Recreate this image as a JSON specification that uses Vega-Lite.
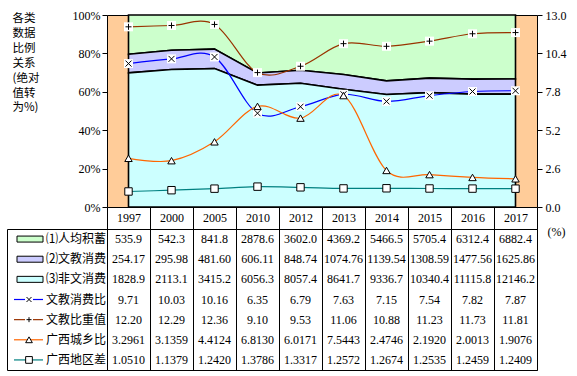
{
"$schema":"https://vega.github.io/schema/vega-lite/v6.json",
"padding":{"left":6,"top":8,"right":0,"bottom":0},
"background":"white",
"config":{"view":{"stroke":null},"axis":{"labelFont":"Liberation Serif","labelFontSize":12,"labelColor":"black","tickColor":"black","tickWidth":1,"domain":false,"grid":false,"titleFont":"Noto Sans CJK SC","titleFontWeight":"normal","titleColor":"black"},"text":{"color":"black"}},
"datasets":{"d":[
{"year":"1997","series":"⑴人均积蓄","value":535.9},{"year":"2000","series":"⑴人均积蓄","value":542.3},{"year":"2005","series":"⑴人均积蓄","value":841.8},{"year":"2010","series":"⑴人均积蓄","value":2878.6},{"year":"2012","series":"⑴人均积蓄","value":3602.0},{"year":"2013","series":"⑴人均积蓄","value":4369.2},{"year":"2014","series":"⑴人均积蓄","value":5466.5},{"year":"2015","series":"⑴人均积蓄","value":5705.4},{"year":"2016","series":"⑴人均积蓄","value":6312.4},{"year":"2017","series":"⑴人均积蓄","value":6882.4},
{"year":"1997","series":"⑵文教消费","value":254.17},{"year":"2000","series":"⑵文教消费","value":295.98},{"year":"2005","series":"⑵文教消费","value":481.60},{"year":"2010","series":"⑵文教消费","value":606.11},{"year":"2012","series":"⑵文教消费","value":848.74},{"year":"2013","series":"⑵文教消费","value":1074.76},{"year":"2014","series":"⑵文教消费","value":1139.54},{"year":"2015","series":"⑵文教消费","value":1308.59},{"year":"2016","series":"⑵文教消费","value":1477.56},{"year":"2017","series":"⑵文教消费","value":1625.86},
{"year":"1997","series":"⑶非文消费","value":1828.9},{"year":"2000","series":"⑶非文消费","value":2113.1},{"year":"2005","series":"⑶非文消费","value":3415.2},{"year":"2010","series":"⑶非文消费","value":6056.3},{"year":"2012","series":"⑶非文消费","value":8057.4},{"year":"2013","series":"⑶非文消费","value":8641.7},{"year":"2014","series":"⑶非文消费","value":9336.7},{"year":"2015","series":"⑶非文消费","value":10340.4},{"year":"2016","series":"⑶非文消费","value":11115.8},{"year":"2017","series":"⑶非文消费","value":12146.2},
{"year":"1997","series":"文教消费比","value":9.71},{"year":"2000","series":"文教消费比","value":10.03},{"year":"2005","series":"文教消费比","value":10.16},{"year":"2010","series":"文教消费比","value":6.35},{"year":"2012","series":"文教消费比","value":6.79},{"year":"2013","series":"文教消费比","value":7.63},{"year":"2014","series":"文教消费比","value":7.15},{"year":"2015","series":"文教消费比","value":7.54},{"year":"2016","series":"文教消费比","value":7.82},{"year":"2017","series":"文教消费比","value":7.87},
{"year":"1997","series":"文教比重值","value":12.20},{"year":"2000","series":"文教比重值","value":12.29},{"year":"2005","series":"文教比重值","value":12.36},{"year":"2010","series":"文教比重值","value":9.10},{"year":"2012","series":"文教比重值","value":9.53},{"year":"2013","series":"文教比重值","value":11.06},{"year":"2014","series":"文教比重值","value":10.88},{"year":"2015","series":"文教比重值","value":11.23},{"year":"2016","series":"文教比重值","value":11.73},{"year":"2017","series":"文教比重值","value":11.81},
{"year":"1997","series":"广西城乡比","value":3.2961},{"year":"2000","series":"广西城乡比","value":3.1359},{"year":"2005","series":"广西城乡比","value":4.4124},{"year":"2010","series":"广西城乡比","value":6.8130},{"year":"2012","series":"广西城乡比","value":6.0171},{"year":"2013","series":"广西城乡比","value":7.5443},{"year":"2014","series":"广西城乡比","value":2.4746},{"year":"2015","series":"广西城乡比","value":2.1920},{"year":"2016","series":"广西城乡比","value":2.0013},{"year":"2017","series":"广西城乡比","value":1.9076},
{"year":"1997","series":"广西地区差","value":1.0510},{"year":"2000","series":"广西地区差","value":1.1379},{"year":"2005","series":"广西地区差","value":1.2420},{"year":"2010","series":"广西地区差","value":1.3786},{"year":"2012","series":"广西地区差","value":1.3317},{"year":"2013","series":"广西地区差","value":1.2572},{"year":"2014","series":"广西地区差","value":1.2674},{"year":"2015","series":"广西地区差","value":1.2535},{"year":"2016","series":"广西地区差","value":1.2459},{"year":"2017","series":"广西地区差","value":1.2409}
]},
"columns":2,
"bounds":"flush",
"spacing":{"row":22,"column":0},
"resolve":{"scale":{"x":"independent","y":"independent","fill":"independent","stroke":"independent","shape":"independent"}},
"concat":[
{"width":100,"height":192,"data":{"values":[{"a":1}]},"mark":{"type":"text","text":""},"encoding":{}},
{"width":430,"height":192,"data":{"name":"d"},
 "view":{"fill":"#FFCC99","stroke":"black","strokeWidth":1},
 "encoding":{"x":{"field":"year","type":"ordinal","bandPosition":0.5,"scale":{"type":"band","paddingInner":0,"paddingOuter":0},
   "axis":{"orient":"bottom","title":null,"labelAngle":0,"tickBand":"extent","tickSize":22,"labelPadding":-17,"labelBaseline":"top","labelFontSize":12}}},
 "layer":[
  {"transform":[{"filter":{"field":"series","oneOf":["⑴人均积蓄","⑵文教消费","⑶非文消费"]}}],
   "mark":{"type":"area","stroke":"black","strokeWidth":1.6},
   "encoding":{
     "y":{"field":"value","type":"quantitative","stack":"normalize","scale":{"domain":[0,1],"nice":false},
        "axis":{"orient":"left","values":[0,0.2,0.4,0.6,0.8,1],"format":".0%","tickSize":5,"labelPadding":2,
          "title":["各类","数据","比例","关系","(绝对","值转","为%)"],"titleAngle":0,"titleAlign":"left","titleBaseline":"top","titleX":-95,"titleY":-2.5,"titleFontSize":11.5,"titleLineHeight":14.9}},
     "fill":{"field":"series","type":"nominal","scale":{"domain":["⑴人均积蓄","⑵文教消费","⑶非文消费"],"range":["#CCFFCC","#CCCCFF","#CCFFFF"]},"legend":null},
     "order":{"field":"series","sort":"descending"}}},
  {"transform":[{"filter":{"field":"series","oneOf":["文教消费比","文教比重值","广西城乡比","广西地区差"]}}],
   "encoding":{"y":{"field":"value","type":"quantitative","scale":{"domain":[0,13],"nice":false},"axis":{"orient":"right","values":[0,2.6,5.2,7.8,10.4,13],"format":".1f","tickSize":5,"labelPadding":3,"title":null}}},
   "layer":[
     {"mark":{"type":"line","interpolate":"cardinal","strokeWidth":1.2},"encoding":{"stroke":{"field":"series","type":"nominal","scale":{"domain":["文教消费比","文教比重值","广西城乡比","广西地区差"],"range":["#0000FF","#993300","#FF6600","#008080"]},"legend":null}}},
     {"transform":[{"filter":{"field":"series","oneOf":["文教消费比","文教比重值"]}}],"mark":{"type":"point","shape":"square","filled":true,"fill":"white","strokeWidth":0,"size":81,"opacity":1}},
     {"transform":[{"filter":{"field":"series","oneOf":["文教消费比","文教比重值"]}}],"mark":{"type":"point","filled":false,"stroke":"black","strokeWidth":1,"size":36,"opacity":1},"encoding":{"shape":{"field":"series","type":"nominal","scale":{"domain":["文教消费比","文教比重值"],"range":["M-1,-1L1,1M-1,1L1,-1","M-1,0L1,0M0,-1L0,1"]},"legend":null}}},
     {"transform":[{"filter":{"field":"series","oneOf":["广西城乡比","广西地区差"]}}],"mark":{"type":"point","filled":true,"fill":"white","stroke":"black","strokeWidth":1,"size":55,"opacity":1},"encoding":{"shape":{"field":"series","type":"nominal","scale":{"domain":["广西城乡比","广西地区差"],"range":["triangle-up","square"]},"legend":null}}}
   ],
   "resolve":{"scale":{"shape":"independent"}}}
 ],
 "resolve":{"scale":{"y":"independent"}}
},
{"width":100,"height":141,"data":{"name":"d"},"transform":[{"filter":{"field":"year","equal":"1997"}}],
 "view":{"stroke":"black","strokeWidth":1},
 "encoding":{"y":{"field":"series","type":"nominal","scale":{"type":"band","domain":["⑴人均积蓄","⑵文教消费","⑶非文消费","文教消费比","文教比重值","广西城乡比","广西地区差"],"paddingInner":0,"paddingOuter":0},"axis":null}},
 "layer":[
   {"transform":[{"filter":{"field":"series","oneOf":["⑴人均积蓄","⑵文教消费","⑶非文消费"]}}],"mark":{"type":"bar","orient":"horizontal","size":6,"stroke":"black","strokeWidth":1},
    "encoding":{"x":{"datum":10,"type":"quantitative","scale":{"domain":[0,100],"nice":false,"zero":false},"axis":null},"x2":{"datum":36},
      "fill":{"field":"series","type":"nominal","scale":{"domain":["⑴人均积蓄","⑵文教消费","⑶非文消费"],"range":["#CCFFCC","#CCCCFF","#CCFFFF"]},"legend":null}}},
   {"transform":[{"filter":{"field":"series","oneOf":["文教消费比","文教比重值","广西城乡比","广西地区差"]}}],"mark":{"type":"rule","strokeWidth":1.2},
    "encoding":{"x":{"datum":7,"type":"quantitative"},"x2":{"datum":36},
      "stroke":{"field":"series","type":"nominal","scale":{"domain":["文教消费比","文教比重值","广西城乡比","广西地区差"],"range":["#0000FF","#993300","#FF6600","#008080"]},"legend":null}}},
   {"transform":[{"filter":{"field":"series","oneOf":["文教消费比","文教比重值"]}}],"mark":{"type":"point","shape":"square","filled":true,"fill":"white","strokeWidth":0,"size":64,"opacity":1},"encoding":{"x":{"datum":22,"type":"quantitative"}}},
   {"transform":[{"filter":{"field":"series","oneOf":["文教消费比","文教比重值"]}}],"mark":{"type":"point","filled":false,"stroke":"black","strokeWidth":1,"size":25,"opacity":1},"encoding":{"x":{"datum":22,"type":"quantitative"},"shape":{"field":"series","type":"nominal","scale":{"domain":["文教消费比","文教比重值"],"range":["M-1,-1L1,1M-1,1L1,-1","M-1,0L1,0M0,-1L0,1"]},"legend":null}}},
   {"transform":[{"filter":{"field":"series","oneOf":["广西城乡比","广西地区差"]}}],"mark":{"type":"point","filled":true,"fill":"white","stroke":"black","strokeWidth":1,"size":45,"opacity":1},"encoding":{"x":{"datum":22,"type":"quantitative"},"shape":{"field":"series","type":"nominal","scale":{"domain":["广西城乡比","广西地区差"],"range":["triangle-up","square"]},"legend":null}}},
   {"mark":{"type":"text","align":"left","baseline":"middle","font":"Noto Sans CJK SC","fontSize":12},"encoding":{"x":{"datum":39,"type":"quantitative"},"text":{"field":"series","type":"nominal"}}}
 ],
 "resolve":{"scale":{"shape":"independent"}}
},
{"width":430,"height":141,"data":{"name":"d"},
 "view":{"stroke":"black","strokeWidth":1},
 "encoding":{
   "x":{"field":"year","type":"ordinal","scale":{"type":"band","paddingInner":0,"paddingOuter":0},"axis":{"orient":"top","tickBand":"extent","grid":true,"gridColor":"black","gridOpacity":1,"gridWidth":1,"labels":false,"ticks":false,"domain":false,"title":null}},
   "y":{"field":"series","type":"nominal","scale":{"type":"band","domain":["⑴人均积蓄","⑵文教消费","⑶非文消费","文教消费比","文教比重值","广西城乡比","广西地区差"],"paddingInner":0,"paddingOuter":0},
     "axis":{"orient":"right","labels":false,"ticks":false,"domain":false,"grid":false,"title":"(%)","titleFont":"Liberation Serif","titleFontSize":12,"titleAngle":0,"titleAlign":"left","titleBaseline":"middle","titleX":10,"titleY":2}}
 },
 "layer":[
   {"transform":[{"filter":{"field":"series","oneOf":["⑴人均积蓄","⑶非文消费"]}}],"mark":{"type":"text","font":"Liberation Serif","fontSize":12},"encoding":{"text":{"field":"value","type":"quantitative","format":".1f"}}},
   {"transform":[{"filter":{"field":"series","oneOf":["⑵文教消费","文教消费比","文教比重值"]}}],"mark":{"type":"text","font":"Liberation Serif","fontSize":12},"encoding":{"text":{"field":"value","type":"quantitative","format":".2f"}}},
   {"transform":[{"filter":{"field":"series","oneOf":["广西城乡比","广西地区差"]}}],"mark":{"type":"text","font":"Liberation Serif","fontSize":12},"encoding":{"text":{"field":"value","type":"quantitative","format":".4f"}}}
 ]
}
]
}
